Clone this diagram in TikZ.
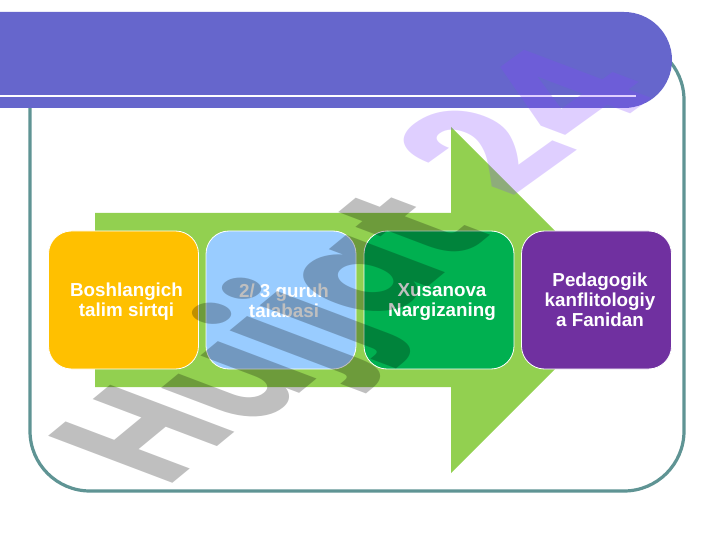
\documentclass[tikz,border=0pt]{standalone}
\usepackage{fontspec}
\setmainfont{Liberation Sans}
\newfontfamily\markfont{Poppins}
\definecolor{barblue}{HTML}{6666CC}
\definecolor{framegreen}{HTML}{5F9494}
\definecolor{arrowgreen}{HTML}{92D050}
\definecolor{boxorange}{HTML}{FFC000}
\definecolor{boxblue}{HTML}{99CCFF}
\definecolor{boxgreen}{HTML}{00B050}
\definecolor{boxpurple}{HTML}{7030A0}
\definecolor{markpurple}{HTML}{8343FF}
\begin{document}
\begin{tikzpicture}[x=1pt,y=-1pt,
	stepbox/.style={draw=white,line width=.8pt,rounded corners=23pt,minimum width=150pt,minimum height=138pt},
	steptext/.style={align=center,inner sep=0pt,text=white,font=\fontsize{18.8}{20}\selectfont\bfseries},
	wmark/.style={transform shape,inner sep=0pt,anchor=base west,font=\fontsize{100}{100}\markfont\bfseries,text opacity=.25}]
	\useasboundingbox (0,0) rectangle (720,540);
	\fill[white] (0,0) rectangle (720,540);
	\draw[framegreen,line width=3.2pt,rounded corners=60pt] (30,40) rectangle (684,491);
	\fill[barblue,rounded corners=48pt] (0,12)--(672,12)--(672,108)--(0,108);
	\coordinate (linestart) at (0,96);
	\coordinate (lineend) at (636,96);
	\draw[white,line width=2.6pt] (linestart)--(lineend);
	\fill[arrowgreen] (95,213)--(451,213)--(451,127)--(624,300)--(451,473)--(451,387)--(95,387)--cycle;
	\node[stepbox,fill=boxorange] (sirtqi) at (123.5,300) {};
	\node[stepbox,fill=boxblue] (guruh) at (281,300) {};
	\node[stepbox,fill=boxgreen] (xusanova) at (439,300) {};
	\node[stepbox,fill=boxpurple] (fanidan) at (596.5,300) {};
	\node[steptext] (sirtqitext) at (126.5,302) {Boshlangich\\talim sirtqi};
	\node[steptext] (guruhtext) at (284,300.5) {2/ 3 guruh\\talabasi};
	\node[steptext] (xusanovatext) at (442,302) {Xusanova\\Nargizaning};
	\node[steptext] (fanidantext) at (600,300) {Pedagogik\\kanflitologiy\\a Fanidan};
	\begin{scope}[cm={1.02,.84,-1.77,.67,(166,489)}]
		\node[wmark,text=black] (hbig) at (0,0) {H};
		\node[wmark,text=black,xshift=1.6pt,yshift=-6.4pt] (hujjat) at (hbig.base east) {ujjat};
	\end{scope}
	\begin{scope}[cm={1.25,.9,-1.77,.67,(511,200)}]
		\node[wmark,text=markpurple] (yigirma) at (0,0) {24};
	\end{scope}
\end{tikzpicture}
\end{document}
